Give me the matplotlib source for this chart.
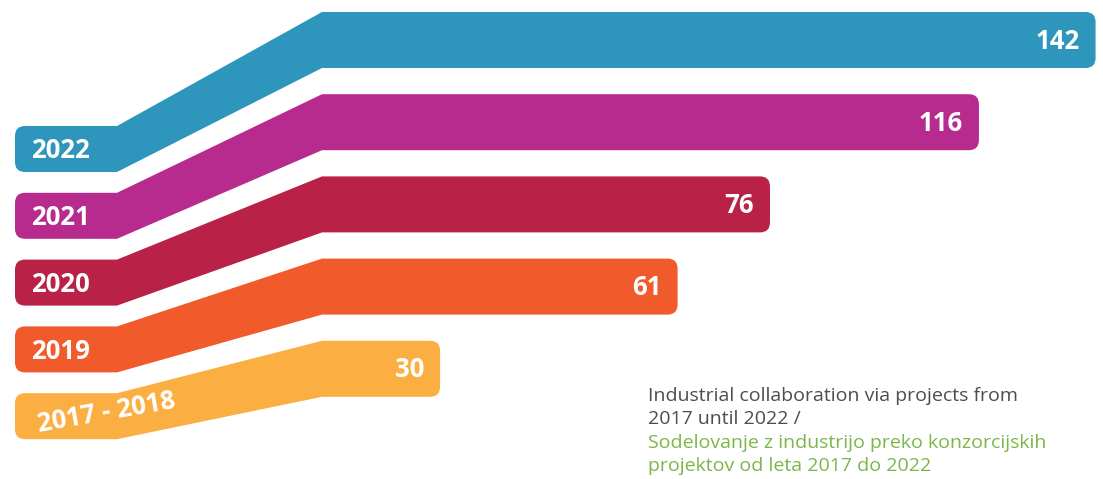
import numpy as np
import matplotlib
matplotlib.use("Agg")
import matplotlib.pyplot as plt
from matplotlib.path import Path
from matplotlib.patches import PathPatch

# ---- data ----
years = ["2022", "2021", "2020", "2019", "2017 - 2018"]
values = [142, 116, 76, 61, 30]
colors = ["#2E95BD", "#B72B8F", "#BA2146", "#F15A2B", "#FBAE42"]
caption_en = ["Industrial collaboration via projects from", "2017 until 2022 /"]
caption_sl = ["Sodelovanje z industrijo preko konzorcijskih", "projektov od leta 2017 do 2022"]

W, H = 1103, 479
fig = plt.figure(figsize=(W / 100, H / 100), dpi=100)
ax = fig.add_axes([0, 0, 1, 1])
ax.set_xlim(0, W)
ax.set_ylim(H, 0)
ax.axis("off")

# layout (pixel space)
LX0, LX1, RX0 = 15, 117, 322
L_TOP0, L_STEP, L_H = 126, 66.8, 46
R_TOP0, R_STEP, R_H = 12, 82.2, 56
RAD = 10


def bar_end(v):
    # square-root value scale
    return -117.5 + 101.8 * np.sqrt(v)


def rounded_path(pts, radii):
    n = len(pts)
    pts = [np.array(p, float) for p in pts]
    verts, codes = [], []
    for i in range(n):
        p = pts[i]
        r = radii[i]
        if r <= 0:
            verts.append(p)
            codes.append(Path.MOVETO if i == 0 else Path.LINETO)
            continue
        prv = pts[i - 1]
        nxt = pts[(i + 1) % n]
        a = p + (prv - p) / np.linalg.norm(prv - p) * r
        b = p + (nxt - p) / np.linalg.norm(nxt - p) * r
        verts.append(a)
        codes.append(Path.MOVETO if i == 0 else Path.LINETO)
        verts += [p, b]
        codes += [Path.CURVE3, Path.CURVE3]
    verts.append(verts[0])
    codes.append(Path.CLOSEPOLY)
    return Path(verts, codes)


lab_font = dict(family=["Open Sans", "DejaVu Sans"], fontweight="bold", color="white", fontsize=18.5)

for i, (yr, v, c) in enumerate(zip(years, values, colors)):
    lt = L_TOP0 + i * L_STEP
    lb = lt + L_H
    rt = R_TOP0 + i * R_STEP
    rb = rt + R_H
    xe = bar_end(v)
    pts = [(LX0, lt), (LX1, lt), (RX0, rt), (xe, rt), (xe, rb), (RX0, rb), (LX1, lb), (LX0, lb)]
    radii = [RAD, 0, 0, RAD, RAD, 0, 0, RAD]
    ax.add_patch(PathPatch(rounded_path(pts, radii), facecolor=c, edgecolor="none"))
    ax.text(xe - 16, (rt + rb) / 2 + 1, str(v), ha="right", va="center", **lab_font)
    if i < len(years) - 1:
        ax.text(31, (lt + lb) / 2 + 2, yr, ha="left", va="center", **lab_font)
    else:
        ax.text(106, (lt + lb) / 2 - 4, yr, ha="center", va="center", rotation=10,
                rotation_mode="anchor", **lab_font)

cap_font = dict(family=["Open Sans", "DejaVu Sans"], fontsize=14, ha="left", va="center")
ys = [396, 419, 443, 466]
for k, line in enumerate(caption_en):
    ax.text(648, ys[k], line, color="#4D4D4D", **cap_font)
for k, line in enumerate(caption_sl):
    ax.text(648, ys[k + 2], line, color="#7AB648", **cap_font)

fig.savefig("out.png", dpi=100)
